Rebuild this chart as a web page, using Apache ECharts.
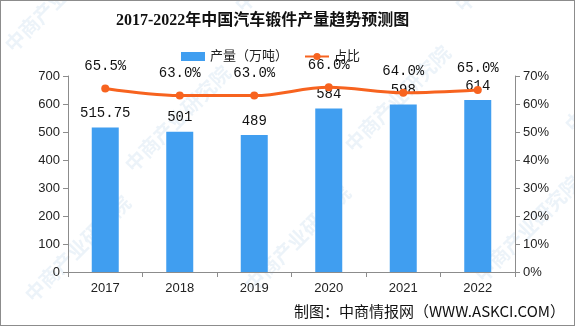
<!DOCTYPE html>
<html>
<head>
<meta charset="utf-8">
<script src="https://cdn.jsdelivr.net/npm/echarts@6/dist/echarts.min.js"></script>
<style>
  html, body { margin: 0; padding: 0; background: #fff; }
  #chart { width: 573px; height: 324px; border: 1px solid #8c8c8c; }
</style>
</head>
<body>
<div id="chart"></div>
<script>
// Forging output of China's automotive industry, 2017-2022 (2021-2022 forecast)
const years = ['2017', '2018', '2019', '2020', '2021', '2022'];
const output = [515.75, 501, 489, 584, 598, 614];      // 万吨
const share = [65.5, 63.0, 63.0, 66.0, 64.0, 65.0];     // %
const leftTicks = [0, 100, 200, 300, 400, 500, 600, 700];
const rightTicks = [0, 10, 20, 30, 40, 50, 60, 70];

const CJK = '"Liberation Sans", "Noto Sans CJK SC", sans-serif';
const MONO = '"Liberation Mono", "Noto Sans CJK SC", monospace';

const chart = echarts.init(document.getElementById('chart'), null, { renderer: 'canvas' });

// faint diagonal watermark
const marks = [];
const wmPos = [[0, 40], [230, 0], [450, 0], [120, 160], [340, 140], [560, 120], [20, 290], [240, 280], [470, 270]];
wmPos.forEach(p => {
  marks.push({
    type: 'text', x: p[0], y: p[1], rotation: Math.PI / 4, z: 0,
    style: { text: '中商产业研究院', fill: 'rgba(120,170,210,0.14)', font: 'bold 20px "Noto Sans CJK SC"' },
    silent: true
  });
});

marks.push({
  type: 'text', right: 9, top: 303, z: 5,
  style: { text: '制图：中商情报网（WWW.ASKCI.COM）', fill: '#111', font: '15px "Noto Sans CJK SC", "Liberation Sans"' }
});

chart.setOption({
  backgroundColor: '#fff',
  animation: false,
  title: {
    text: '2017-2022年中国汽车锻件产量趋势预测图',
    left: 110, top: 7,
    textStyle: { fontFamily: '"Liberation Serif", "Noto Sans CJK SC", serif', fontSize: 16, fontWeight: 'bold', color: '#111' }
  },
  legend: {
    top: 44, left: 175, itemGap: 16, itemWidth: 24, itemHeight: 9,
    textStyle: { fontFamily: CJK, fontSize: 13, color: '#222' },
    data: [
      { name: '产量（万吨）', icon: 'rect' },
      { name: '占比' }
    ]
  },
  grid: { left: 67, right: 59, top: 75, bottom: 53 },
  xAxis: {
    type: 'category', data: years,
    axisLine: { lineStyle: { color: '#8c8c8c' } },
    axisTick: { show: true, alignWithLabel: false, length: 5, lineStyle: { color: '#8c8c8c' } },
    axisLabel: { fontFamily: CJK, fontSize: 13, color: '#222', margin: 10 }
  },
  yAxis: [
    {
      type: 'value', min: leftTicks[0], max: leftTicks[leftTicks.length - 1], interval: 100,
      axisLine: { show: true, lineStyle: { color: '#8c8c8c' } },
      axisTick: { show: true, length: 5, lineStyle: { color: '#8c8c8c' } },
      splitLine: { show: false },
      axisLabel: { fontFamily: CJK, fontSize: 13, color: '#222', margin: 8 }
    },
    {
      type: 'value', min: rightTicks[0], max: rightTicks[rightTicks.length - 1], interval: 10,
      position: 'right',
      axisLine: { show: true, lineStyle: { color: '#8c8c8c' } },
      axisTick: { show: true, length: 5, lineStyle: { color: '#8c8c8c' } },
      splitLine: { show: false },
      axisLabel: { fontFamily: CJK, fontSize: 13, color: '#222', margin: 8, formatter: '{value}%' }
    }
  ],
  graphic: marks,
  series: [
    {
      name: '产量（万吨）', type: 'bar', data: output, barWidth: 27, z: 2,
      itemStyle: { color: '#409ef0' },
      label: { show: true, position: 'top', distance: 7, fontFamily: MONO, fontSize: 14, color: '#111' }
    },
    {
      name: '占比', type: 'line', yAxisIndex: 1, data: share, smooth: 0.35, z: 3,
      symbol: 'circle', symbolSize: 8,
      lineStyle: { color: '#f7631f', width: 3 },
      itemStyle: { color: '#f7631f' },
      label: {
        show: true, position: 'top', distance: 11, fontFamily: MONO, fontSize: 14, color: '#111',
        formatter: p => p.value.toFixed(1) + '%'
      }
    }
  ]
});
</script>
</body>
</html>
